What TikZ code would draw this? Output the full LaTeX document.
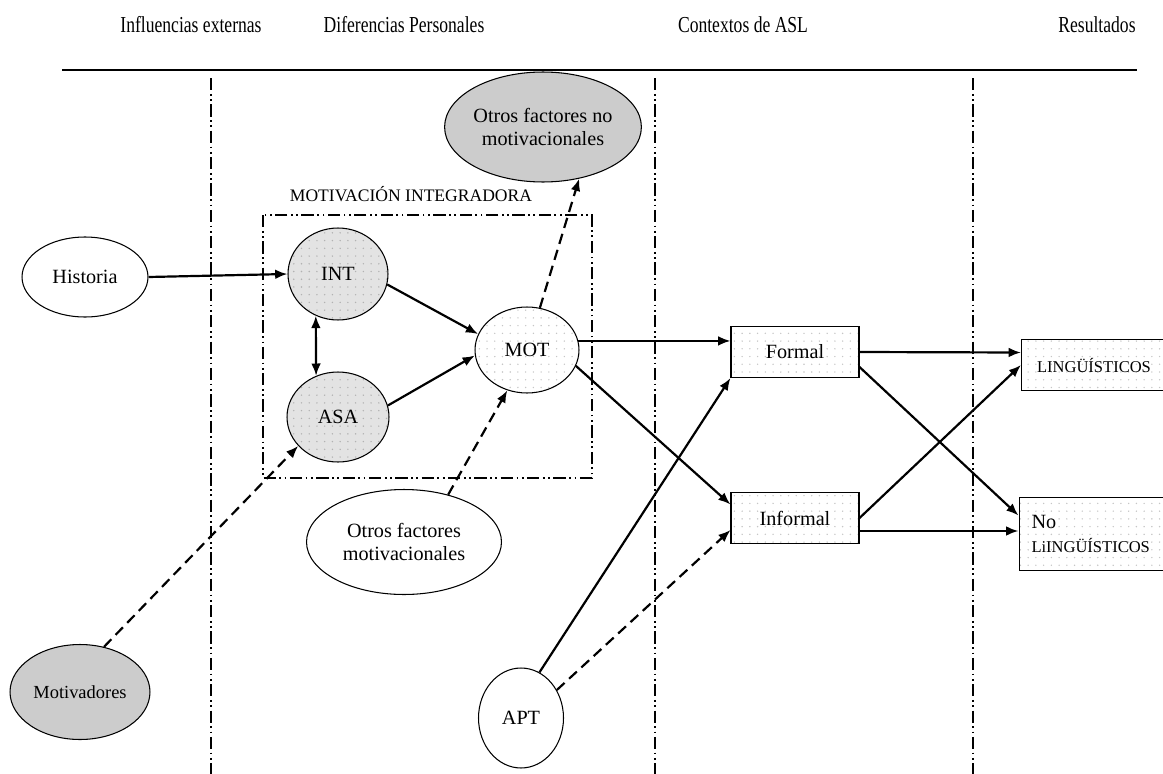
\documentclass[tikz,border=0pt]{standalone}
\usepackage{fontspec}
\setmainfont{Liberation Serif}
\usepackage{graphicx}
\usetikzlibrary{positioning,shapes.geometric,patterns,arrows.meta}

\pgfdeclarepatternformonly{sparsedots}{\pgfpoint{-1pt}{-1pt}}{\pgfpoint{1pt}{1pt}}{\pgfpoint{4.4pt}{4.4pt}}{\pgfpathcircle{\pgfpointorigin}{0.45pt}\pgfusepath{fill}}

\begin{document}
\begin{tikzpicture}[
    x=0.02cm, y=-0.02cm,
    every node/.style={font=\fontsize{11.5}{13}\selectfont, align=center, inner sep=1pt},
    hdr/.style={font=\fontsize{13}{15}\selectfont},
    elip/.style={draw, ellipse, line width=0.6pt},
    grayelip/.style={elip, fill=gray!40},
    dotgray/.style={elip, preaction={fill=gray!22}, pattern=sparsedots, pattern color=gray!60},
    dotwhite/.style={draw, line width=0.6pt, pattern=sparsedots, pattern color=gray!45},
    sepline/.style={line width=0.8pt, dash pattern=on 7pt off 2pt on 1pt off 2pt on 1pt off 2pt},
    arr/.style={-{Latex[length=7pt,width=5.5pt]}, line width=1.25pt},
    darr/.style={arr, dash pattern=on 6pt off 3.5pt}
]
\useasboundingbox (0,0) rectangle (1163,774);

% Column titles
\node[hdr] (hext) at (191,25) {\scalebox{0.77}[1]{Influencias externas}};
\node[hdr] (hpers) at (404,25) {\scalebox{0.77}[1]{Diferencias Personales}};
\node[hdr] (hctx) at (743,25) {\scalebox{0.77}[1]{Contextos de ASL}};
\node[hdr] (hres) at (1097,25) {\scalebox{0.77}[1]{Resultados}};
\draw[line width=0.9pt] (62,70) -- (1137,70);

% Column separators
\draw[sepline] (211,78) -- (211,774);
\draw[sepline] (655,78) -- (655,774);
\draw[sepline] (973,78) -- (973,774);

% Integrative motivation box
\draw[line width=0.7pt, dash pattern=on 7pt off 2pt on 1pt off 2pt on 1pt off 2pt] (263,215) rectangle (592,478);
\node[font=\fontsize{10}{12}\selectfont] (mitxt) at (411,194) {MOTIVACIÓN INTEGRADORA};

% Nodes
\node[elip, minimum width=2.52cm, minimum height=1.6cm] (historia) at (85,277) {Historia};
\node[dotgray, minimum width=2cm, minimum height=1.84cm] (int) at (338,274) {INT};
\node[dotgray, minimum width=2.04cm, minimum height=1.8cm] (asa) at (338,417) {ASA};
\node[dotwhite, ellipse, minimum width=2.08cm, minimum height=1.72cm] (mot) at (527,350) {MOT};
\node[grayelip, minimum width=3.9cm, minimum height=2.2cm, inner sep=0pt] (otrosno) at (543,127) {Otros factores no\\motivacionales};
\node[elip, minimum width=3.9cm, minimum height=2.1cm, inner sep=0pt] (otrosmot) at (404,542) {Otros factores\\motivacionales};
\node[grayelip, minimum width=2.8cm, minimum height=1.9cm, font=\fontsize{10.5}{12}\selectfont] (motivadores) at (80,692) {Motivadores};
\node[elip, minimum width=1.7cm, minimum height=2cm] (apt) at (521,718) {APT};

\node[dotwhite, minimum width=2.56cm, minimum height=1.02cm] (formal) at (795,352) {Formal};
\node[dotwhite, minimum width=2.56cm, minimum height=1.02cm] (informal) at (795,518) {Informal};
\node[dotwhite, minimum width=2.9cm, minimum height=1.02cm, font=\fontsize{9.4}{11}\selectfont] (ling) at (1094,365) {LINGÜÍSTICOS};
\node[dotwhite, minimum width=2.9cm, minimum height=1.46cm, text width=2.5cm, inner xsep=0.25cm, align=left] (noling) at (1094,534) {No\\[1pt]{\fontsize{9.4}{11}\selectfont LiINGÜÍSTICOS}};

% Arrows inside the box
\draw[arr] (historia.east) -- (int.west);
\draw[arr, {Latex[length=7pt,width=5.5pt]}-{Latex[length=7pt,width=5.5pt]}] (int.242) -- (asa.118);
\draw[arr] (int.-12) -- (mot.162);
\draw[arr] (asa.13) -- (mot.186);

% Dashed influences
\draw[darr] (mot.73) -- (otrosno.-55);
\draw[darr] (otrosmot.47) -- (mot.244);
\draw[darr] (motivadores.62) -- (asa.216);

% Towards the contexts
\draw[arr] (mot.10) -- (mot.10 -| formal.west);
\draw[arr] (mot.-18) -- ([yshift=0.27cm]informal.west);
\draw[arr] (apt.68) -- (formal.south west);
\draw[darr] (apt.38) -- ([yshift=-0.24cm]informal.west);

% Towards the results
\draw[arr] (formal.east) -- ([yshift=0.25cm]ling.west);
\draw[arr] ([yshift=-0.3cm]formal.east) -- ([yshift=0.37cm]noling.west);
\draw[arr] (informal.east) -- (ling.west);
\draw[arr] ([yshift=-0.26cm]informal.east) -- ([yshift=-0.26cm]informal.east -| noling.west);

\end{tikzpicture}
\end{document}
